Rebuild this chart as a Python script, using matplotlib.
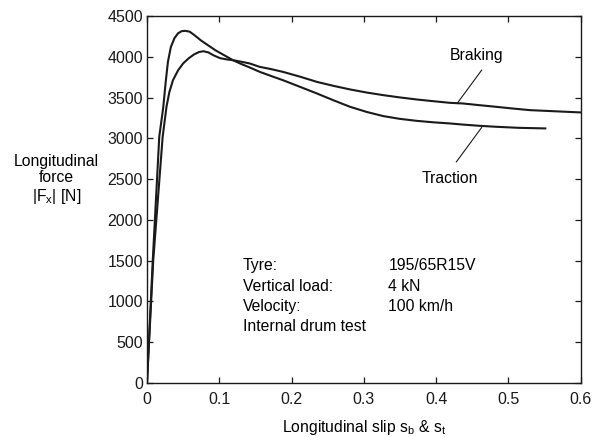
import matplotlib
matplotlib.use("Agg")
import matplotlib.pyplot as plt

slip_braking = [0.0, 0.0087, 0.0217, 0.027, 0.031, 0.036, 0.043, 0.050, 0.058, 0.065,
                0.072, 0.078, 0.085, 0.092, 0.101, 0.110, 0.119, 0.130, 0.142,
                0.156, 0.172, 0.188, 0.212, 0.235, 0.258, 0.281, 0.304, 0.327,
                0.350, 0.373, 0.396, 0.419, 0.437, 0.460, 0.483, 0.506, 0.530,
                0.565, 0.600]
force_braking = [0, 1508, 3020, 3388, 3570, 3715, 3835, 3920, 3985, 4030,
                 4060, 4070, 4055, 4020, 3985, 3970, 3960, 3942, 3920,
                 3878, 3850, 3817, 3757, 3694, 3645, 3601, 3563, 3531,
                 3503, 3478, 3457, 3437, 3429, 3408, 3388, 3367, 3347,
                 3333, 3319]

slip_traction = [0.0, 0.008, 0.017, 0.0226, 0.026, 0.029, 0.033, 0.038, 0.043, 0.048,
                 0.053, 0.059, 0.066, 0.075, 0.085, 0.095, 0.107, 0.119, 0.130,
                 0.142, 0.156, 0.172, 0.188, 0.212, 0.235, 0.258, 0.281, 0.304,
                 0.327, 0.350, 0.373, 0.396, 0.419, 0.437, 0.460, 0.483, 0.515,
                 0.551]
force_traction = [0, 1500, 3020, 3388, 3700, 3940, 4120, 4230, 4290, 4316,
                  4320, 4310, 4265, 4200, 4140, 4080, 4020, 3960, 3915,
                  3871, 3817, 3765, 3715, 3632, 3552, 3468, 3388, 3325,
                  3274, 3240, 3216, 3198, 3184, 3170, 3155, 3143, 3130,
                  3123]

info_keys = ["Tyre:", "Vertical load:", "Velocity:", "Internal drum test"]
info_vals = ["195/65R15V", "4 kN", "100 km/h", ""]

plt.rcParams['font.family'] = ['Liberation Sans', 'DejaVu Sans']
fs = 11.3

fig = plt.figure(figsize=(5.95, 4.37), dpi=100)
ax = fig.add_axes([0.247, 0.1236, 0.729, 0.8394])

ax.plot(slip_braking, force_braking, color='#1a1a1a', lw=1.5)
ax.plot(slip_traction, force_traction, color='#1a1a1a', lw=1.5)

ax.set_xlim(0, 0.6)
ax.set_ylim(0, 4500)
ax.set_xticks([0, 0.1, 0.2, 0.3, 0.4, 0.5, 0.6])
ax.set_xticklabels(["0", "0.1", "0.2", "0.3", "0.4", "0.5", "0.6"])
ax.set_yticks(range(0, 4501, 500))
ax.tick_params(direction='in', length=4, width=0.9, top=True, right=True,
               labelsize=11.5, colors='#1a1a1a')
ax.tick_params(axis='x', pad=6.5)
ax.tick_params(axis='y', pad=3)
for s in ax.spines.values():
    s.set_linewidth(1.0)
    s.set_color('#1a1a1a')

# curve labels with leader lines
ax.text(0.456, 4021, "Braking", ha='center', va='center', fontsize=fs)
ax.plot([0.463, 0.429], [3838, 3429], color='#1a1a1a', lw=0.8)
ax.text(0.419, 2513, "Traction", ha='center', va='center', fontsize=fs)
ax.plot([0.463, 0.428], [3135, 2713], color='#1a1a1a', lw=0.8)

# test conditions
rows_y = [1385, 1132, 883, 641]
for k, v, yy in zip(info_keys, info_vals, rows_y):
    ax.text(0.133, yy, k, ha='left', va='baseline', fontsize=fs)
    if v:
        ax.text(0.334, yy, v, ha='left', va='baseline', fontsize=fs)

fig.text(0.095, 0.588, "Longitudinal\nforce\n|F$_\\mathregular{x}$| [N]",
         ha='center', va='center', fontsize=fs, linespacing=1.15)
fig.text(0.612, 0.022, "Longitudinal slip s$_\\mathregular{b}$ & s$_\\mathregular{t}$",
         ha='center', va='center', fontsize=fs)

fig.savefig("out.png", dpi=100)
